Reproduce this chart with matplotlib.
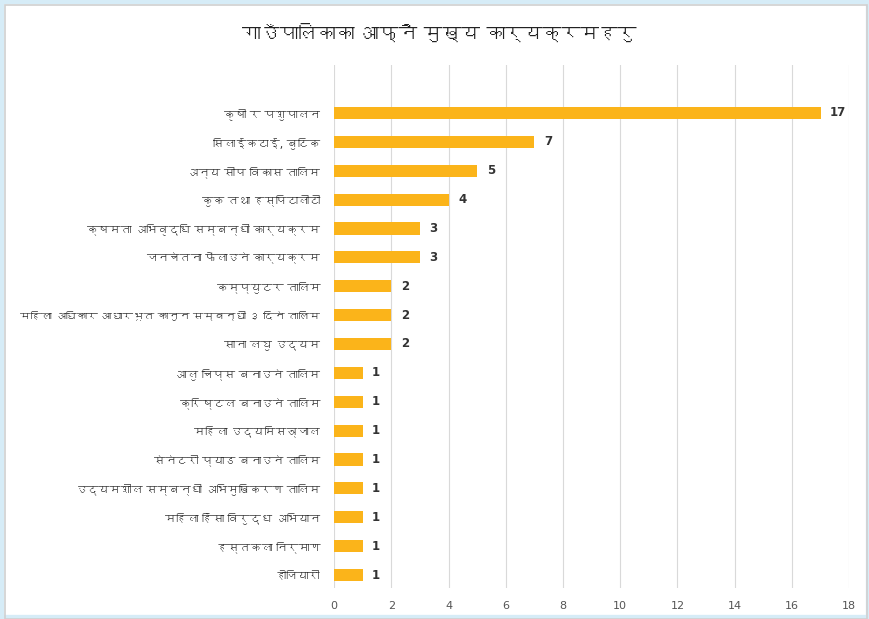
import matplotlib
matplotlib.use('Agg')
import matplotlib.pyplot as plt
from matplotlib import font_manager
from matplotlib.ft2font import FT2Font
from matplotlib.patches import Rectangle

# Data
categories = [
    'कृषी र पशुपालन',
    'सिलाईकटाई, बुटिक',
    'अन्य सीप विकास तालिम',
    'कुक तथा हस्पिटालीटी',
    'क्षमता अभिवृद्धि सम्बन्धी कार्यक्रम',
    'जनचेतना फैलाउने कार्यक्रम',
    'कम्प्युटर तालिम',
    'महिला अधिकार आधारभूत कानुन सम्बन्धी ३ दिने तालिम',
    'साना लघु उद्यम',
    'आलु चिप्स बनाउने तालिम',
    'क्रिष्टल बनाउने तालिम',
    'महिला उद्यमिसञ्जाल',
    'सेनेटरी प्याड बनाउने तालिम',
    'उद्यमशील सम्बन्धी अभिमुखिकरण तालिम',
    'महिला हिंसा विरुद्ध अभियान',
    'हस्तकला निर्माण',
    'होजियारी',
]
counts = [17, 7, 5, 4, 3, 3, 2, 2, 2, 1, 1, 1, 1, 1, 1, 1, 1]
xticks = [0, 2, 4, 6, 8, 10, 12, 14, 16, 18]
title = 'गाउँपालिकाका आफ्नै मुख्य कार्यक्रमहरु'


# find any installed font that covers Devanagari
def find_devanagari_fonts():
    found = []
    for f in font_manager.fontManager.ttflist:
        try:
            cmap = FT2Font(f.fname).get_charmap()
        except Exception:
            continue
        if 0x0915 in cmap and 0x093F in cmap:
            if f.name not in found:
                found.append(f.name)
    return found


deva = find_devanagari_fonts()
# digits and latin from DejaVu, Devanagari falls through to the next family
plt.rcParams['font.family'] = ['DejaVu Sans'] + deva

fig = plt.figure(figsize=(8.70, 6.19), dpi=100)
fig.patch.set_facecolor('white')
# light frame around the picture (blue page edge at top/left, grey border)
fig.patches.append(Rectangle((0, 0), 1, 1, transform=fig.transFigure,
                             facecolor='none', edgecolor='#d6ecf7', linewidth=6))
fig.patches.append(Rectangle((0.006, 0.0), 0.99, 0.992, transform=fig.transFigure,
                             facecolor='none', edgecolor='#d0d0d0', linewidth=1.2))

ax = fig.add_axes([0.384, 0.050, 0.592, 0.845])
y = list(range(len(categories)))
ax.barh(y, counts, height=0.42, color='#FBB41A', zorder=3)
for yi, c in zip(y, counts):
    ax.text(c + 0.33, yi, str(c), va='center', ha='left', fontsize=8.5,
            fontweight='bold', color='#333333')

ax.set_ylim(16.45, -1.66)
ax.set_xlim(0, 18)
ax.set_xticks(xticks)
ax.set_yticks(y)
ax.set_yticklabels(categories, fontsize=8, color='#333333')
# the longest label is a touch smaller so it stays inside the frame
ax.get_yticklabels()[7].set_fontsize(7.7)
ax.tick_params(axis='x', labelsize=8, colors='#555555', length=0, pad=9)
ax.tick_params(axis='y', length=0, pad=10)
ax.grid(axis='x', color='#d9d9d9', linewidth=0.8, zorder=0)
for s in ax.spines.values():
    s.set_visible(False)

fig.text(0.505, 0.945, title, ha='center', va='center', fontsize=13.5,
         fontweight='bold', color='#222222')

fig.savefig('out.png', dpi=100)
